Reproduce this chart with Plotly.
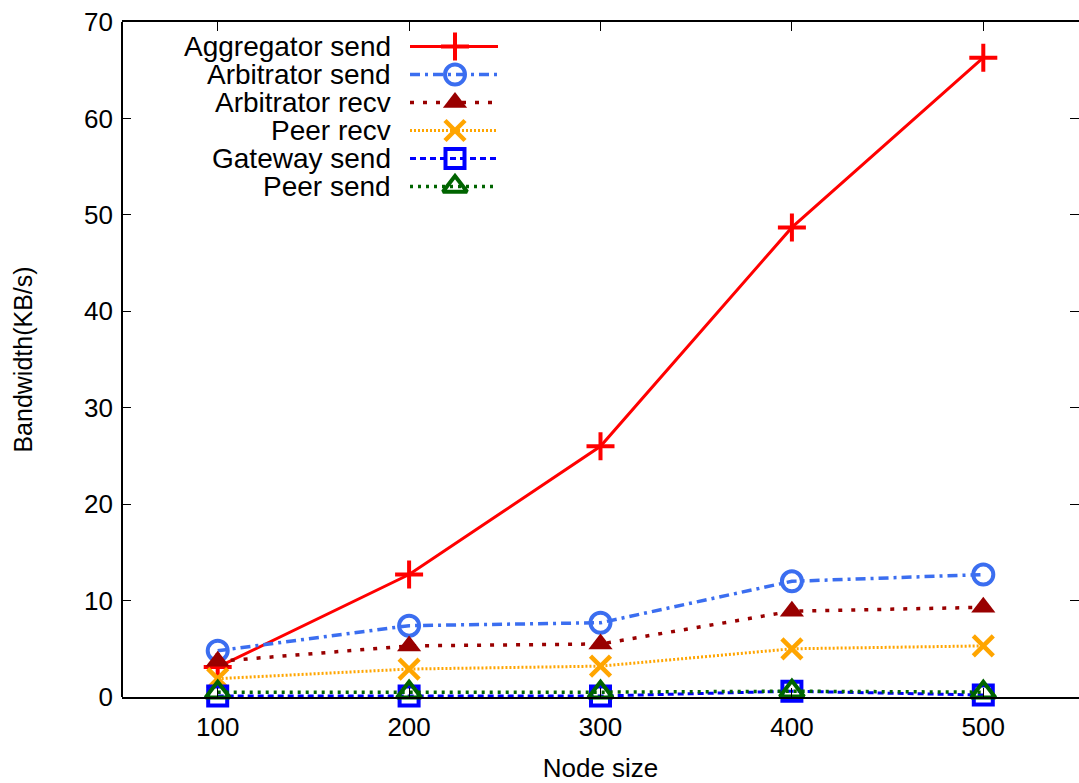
import plotly.graph_objects as go

# ---- data ----
node_sizes = [100, 200, 300, 400, 500]
aggregator_send = [3.1, 12.7, 26.0, 48.7, 66.3]
arbitrator_send = [4.8, 7.4, 7.7, 12.0, 12.7]
arbitrator_recv = [3.7, 5.3, 5.5, 8.9, 9.3]
peer_recv = [1.9, 2.9, 3.2, 5.0, 5.3]
gateway_send = [0.1, 0.1, 0.1, 0.6, 0.2]
peer_send = [0.5, 0.5, 0.5, 0.6, 0.5]

series_names = ["Aggregator send", "Arbitrator send", "Arbitrator recv",
                "Peer recv", "Gateway send", "Peer send"]
series_values = [aggregator_send, arbitrator_send, arbitrator_recv,
                 peer_recv, gateway_send, peer_send]

x_ticks = [100, 200, 300, 400, 500]
y_ticks = [0, 10, 20, 30, 40, 50, 60, 70]

# ---- styles ----
styles = [
    dict(color="#ff0000", dash="solid", lw=3, symbol="cross-thin", size=20, mlw=4),
    dict(color="#3b6ef0", dash="10px,5px,3px,5px", lw=3.5, symbol="circle-open", size=20, mlw=4),
    dict(color="#990000", dash="4px,9px,4px,9px", lw=3.5, symbol="triangle-up", size=21, mlw=0),
    dict(color="#ffa500", dash="2px,2px", lw=3, symbol="x-thin", size=20, mlw=4.5),
    dict(color="#0000ff", dash="6px,4px", lw=3, symbol="square-open", size=19, mlw=4),
    dict(color="#006400", dash="3px,5px", lw=3.5, symbol="triangle-up-open", size=21, mlw=4),
]

FONT = "Liberation Sans, Arial, sans-serif"

fig = go.Figure()
for name, vals, st in zip(series_names, series_values, styles):
    fig.add_trace(go.Scatter(
        x=node_sizes, y=vals, name=name, mode="lines+markers",
        line=dict(color=st["color"], width=st["lw"], dash=st["dash"]),
        marker=dict(symbol=st["symbol"], size=st["size"], color=st["color"], opacity=1,
                    line=dict(color=st["color"], width=st["mlw"])),
        showlegend=False, cliponaxis=False,
    ))

# ---- manual gnuplot-style legend (pixel coordinates on overlay axes) ----
LEG_TOP = 46.5
LEG_STEP = 28.0
LEG_X0, LEG_XM, LEG_X1 = 410, 455, 498
LEG_TEXT_X = 393
annotations = []
for i, (name, st) in enumerate(zip(series_names, styles)):
    yy = LEG_TOP + i * LEG_STEP
    fig.add_trace(go.Scatter(
        x=[LEG_X0, LEG_X1], y=[yy, yy], mode="lines",
        xaxis="x2", yaxis="y2", showlegend=False, hoverinfo="skip",
        line=dict(color=st["color"], width=st["lw"], dash=st["dash"]),
    ))
    fig.add_trace(go.Scatter(
        x=[LEG_XM], y=[yy], mode="markers",
        xaxis="x2", yaxis="y2", showlegend=False, hoverinfo="skip",
        marker=dict(symbol=st["symbol"], size=st["size"], color=st["color"], opacity=1,
                    line=dict(color=st["color"], width=st["mlw"])),
    ))
    annotations.append(dict(
        x=LEG_TEXT_X, y=yy, xref="x2", yref="y2", text=name, showarrow=False,
        xanchor="right", yanchor="middle", font=dict(family=FONT, size=28, color="black"),
    ))

fig.update_layout(
    width=1079, height=783,
    margin=dict(l=122, r=0, t=22, b=86),
    paper_bgcolor="white", plot_bgcolor="white",
    font=dict(family=FONT, size=26, color="black"),
    showlegend=False,
    annotations=annotations,
    shapes=[dict(type="line", xref="paper", yref="paper", x0=0, x1=0, y0=0, y1=1,
                 line=dict(color="black", width=2))],
    xaxis=dict(
        range=[50, 550], tickvals=x_ticks, ticktext=[str(v) for v in x_ticks],
        ticks="inside", ticklen=9, tickwidth=1, tickcolor="black",
        showline=True, linecolor="black", linewidth=2, mirror="ticks",
        showgrid=False, zeroline=False,
        tickfont=dict(family=FONT, size=26),
        ticklabelstandoff=6,
        title=dict(text="Node size", font=dict(family=FONT, size=26), standoff=22),
    ),
    yaxis=dict(
        range=[0, 70], tickvals=y_ticks, ticktext=[str(v) for v in y_ticks],
        ticks="inside", ticklen=9, tickwidth=1, tickcolor="black",
        showline=False, mirror="ticks",
        showgrid=False, zeroline=False,
        tickfont=dict(family=FONT, size=26),
        ticklabelstandoff=8,
        title=dict(text="Bandwidth(KB/s)", font=dict(family=FONT, size=25), standoff=44),
    ),
    xaxis2=dict(overlaying="x", range=[122, 1079], visible=False, fixedrange=True),
    yaxis2=dict(overlaying="y", range=[697, 22], visible=False, fixedrange=True),
)

fig.write_html("out.html")
